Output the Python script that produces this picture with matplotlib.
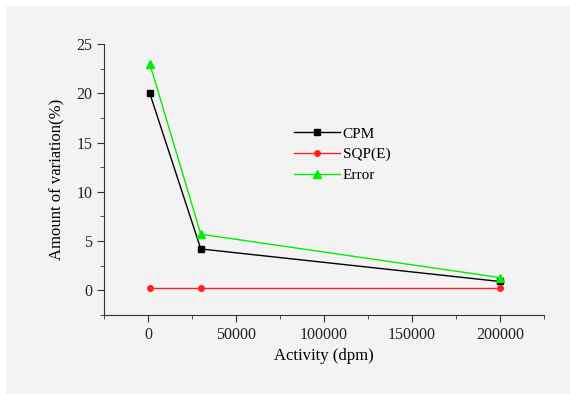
import matplotlib
matplotlib.use("Agg")
import matplotlib.pyplot as plt
from matplotlib.patches import Rectangle
from matplotlib.ticker import MultipleLocator

# data
activity = [1000, 30000, 200000]
cpm = [20.0, 4.2, 0.9]
sqp_e = [0.25, 0.25, 0.25]
error = [23.0, 5.7, 1.3]

plt.rcParams["font.family"] = ["Liberation Serif", "DejaVu Serif"]
plt.rcParams["font.size"] = 11

fig = plt.figure(figsize=(5.7, 3.94), dpi=100)
fig.patch.set_facecolor("white")
fig.patches.append(Rectangle((6 / 570, 0), 564 / 570, 388 / 394,
                             transform=fig.transFigure, facecolor="#f3f3f3",
                             edgecolor="none", zorder=-10))

ax = fig.add_axes([104 / 570, (394 - 315) / 394, 440 / 570, 271 / 394])
ax.set_facecolor("none")

ax.plot(activity, cpm, "-", color="black", lw=1, marker="s", ms=4, label="CPM")
ax.plot(activity, sqp_e, "-", color="#ff2020", lw=1, marker="o", ms=4, label="SQP(E)")
ax.plot(activity, error, "-", color="#00ee00", lw=1, marker="^", ms=6, label="Error")

ax.set_xlim(-25000, 225000)
ax.set_ylim(-2.5, 25)
ax.xaxis.set_major_locator(MultipleLocator(50000))
ax.xaxis.set_minor_locator(MultipleLocator(25000))
ax.yaxis.set_major_locator(MultipleLocator(5))
ax.yaxis.set_minor_locator(MultipleLocator(2.5))
ax.set_xticks([0, 50000, 100000, 150000, 200000])
ax.set_xticklabels(["0", "50000", "100000", "150000", "200000"])

for s in ("top", "right"):
    ax.spines[s].set_visible(False)
for s in ("left", "bottom"):
    ax.spines[s].set_color("#333333")
ax.tick_params(which="major", direction="out", length=5, color="#333333",
               labelcolor="#222222", labelsize=11.5)
ax.tick_params(which="minor", direction="out", length=3, color="#333333")

ax.set_xlabel("Activity (dpm)", labelpad=4, fontsize=12)
ax.set_ylabel("Amount of variation(%)", labelpad=8, fontsize=12)

leg = ax.legend(loc="upper left", bbox_to_anchor=(0.40, 0.745), frameon=False,
                handlelength=3, handletextpad=0.2, labelspacing=0.45,
                fontsize=11)

fig.savefig("out.png", dpi=100)
